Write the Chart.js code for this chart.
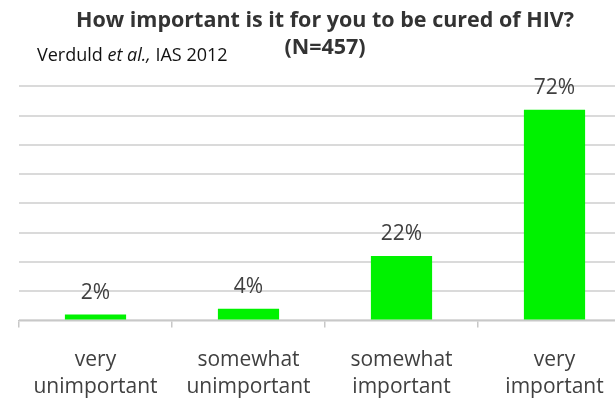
<!DOCTYPE html>
<html>
<head>
<meta charset="utf-8">
<script src="https://cdn.jsdelivr.net/npm/chart.js@4/dist/chart.umd.min.js"></script>
<style>
    html, body {
        margin: 0;
        padding: 0;
        background: #fff;
        overflow: hidden;
    }

    .chart-wrap {
        position: relative;
        width: 650px;
        height: 398px;
        overflow: hidden;
    }

    .source {
        position: absolute;
        left: 37px;
        top: 42px;
        font-family: "Open Sans", sans-serif;
        font-size: 18px;
        color: #111;
        white-space: nowrap;
    }
</style>
</head>
<body>
<div class="chart-wrap">
    <canvas id="cure-chart" width="650" height="420"></canvas>
    <div class="source">Verduld <i>et al.,</i> IAS 2012</div>
</div>
<script>
const categories = [
    ["very", "unimportant"],
    ["somewhat", "unimportant"],
    ["somewhat", "important"],
    ["very", "important"]
];
const shares = [2, 4, 22, 72];
const titleLines = ["How important is it for you to be cured of HIV?", "(N=457)"];

const textColor = "#404040";
const fontFamily = "'Open Sans', sans-serif";

// writes "NN%" above each bar, placed from the bar element itself
const valueLabels = {
    id: "valueLabels",
    afterDatasetsDraw(chart) {
        const { ctx } = chart;
        const meta = chart.getDatasetMeta(0);

        ctx.save();
        ctx.font = `21px ${fontFamily}`;
        ctx.fillStyle = textColor;
        ctx.textAlign = "center";
        ctx.textBaseline = "middle";

        meta.data.forEach((bar, i) => {
            ctx.fillText(`${shares[i]}%`, bar.x, bar.y - 22);
        });

        ctx.restore();
    }
};

new Chart(document.getElementById("cure-chart"), {
    type: "bar",
    data: {
        labels: categories,
        datasets: [
            {
                data: shares,
                backgroundColor: "#00f200",
                borderWidth: 0,
                categoryPercentage: 1,
                barPercentage: 0.4
            }
        ]
    },
    options: {
        responsive: false,
        animation: false,
        layout: {
            padding: { left: 19, right: 19, top: 0, bottom: 0 }
        },
        plugins: {
            legend: { display: false },
            tooltip: { enabled: false },
            title: {
                display: true,
                text: titleLines,
                color: "#333",
                font: { family: fontFamily, size: 21.5, weight: "bold", lineHeight: 1.24 },
                padding: { top: 8, bottom: 25 }
            }
        },
        scales: {
            x: {
                offset: true,
                border: { color: "#c8c8c8", width: 1.5 },
                grid: {
                    offset: true,
                    drawOnChartArea: false,
                    drawTicks: true,
                    tickLength: 7,
                    color: "#c8c8c8",
                    lineWidth: 1.5
                },
                ticks: {
                    color: textColor,
                    padding: 19,
                    maxRotation: 0,
                    font: { family: fontFamily, size: 21, lineHeight: 1.3 }
                }
            },
            y: {
                min: 0,
                max: 80,
                border: { display: false },
                grid: {
                    color: "#dadada",
                    lineWidth: 2,
                    drawTicks: false
                },
                ticks: {
                    display: false,
                    stepSize: 10
                }
            }
        }
    },
    plugins: [valueLabels]
});
</script>
</body>
</html>
